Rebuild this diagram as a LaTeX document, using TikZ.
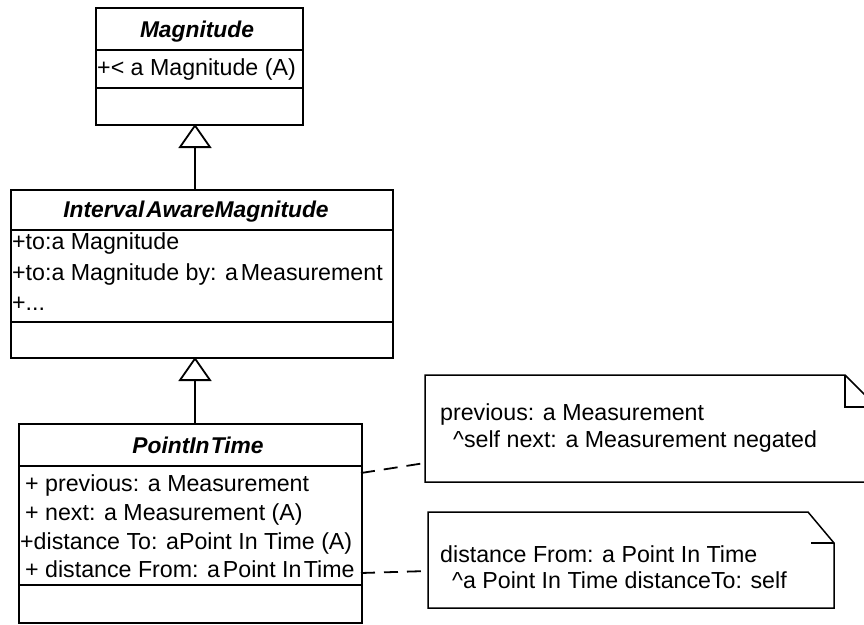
\documentclass[tikz,border=0pt]{standalone}
\usepackage{fontspec}
\setmainfont{Liberation Sans}
\usetikzlibrary{arrows.meta}

\tikzset{
  classbox/.style={draw, line width=2pt, rectangle, inner sep=0pt, anchor=north west},
  compart/.style={line width=1.6pt},
  txt/.style={inner sep=0pt, anchor=base west, font=\fontsize{23.2}{27}\selectfont},
  ctitle/.style={inner sep=0pt, anchor=base, font=\fontsize{22.8}{27}\selectfont\bfseries\itshape},
  gen/.style={line width=1.8pt, -{Triangle[open, length=24pt, width=33pt, line width=1.8pt]}},
  notebox/.style={line width=1.5pt, line join=miter},
  anchorline/.style={line width=1.8pt, dash pattern=on 14pt off 9pt}
}

\begin{document}
\begin{tikzpicture}[x=1pt, y=-1pt]
\useasboundingbox (0,0) rectangle (864,624);
\fill[white] (0,0) rectangle (864,624);
\clip (0,0) rectangle (864,624);

% ---- class Magnitude ----
\node[classbox, minimum width=207pt, minimum height=117pt] (mag) at (95,7) {};
\draw[compart] (95,50) -- (302,50);
\draw[compart] (95,88) -- (302,88);
\node[ctitle] (magT) at (197,37) {Magnitude};
\node[txt] (magA) at (97,75) {+< a Magnitude (A)};

% ---- class IntervalAwareMagnitude ----
\node[classbox, minimum width=382pt, minimum height=168pt] (iam) at (10,189) {};
\draw[compart] (10,230) -- (392,230);
\draw[compart] (10,322) -- (392,322);
\node[ctitle] (iamT) at (196,217) {Interval\hspace{0.08em}AwareMagnitude};
\node[txt] (iamA1) at (12,249) {+to:a Magnitude};
\node[txt] (iamA2) at (12,280) {+to:a Magnitude by: a\hspace{0.12em}Measurement};
\node[txt] (iamA3) at (12,310) {+...};

% ---- class PointInTime ----
\node[classbox, minimum width=343pt, minimum height=199pt] (pit) at (18,423) {};
\draw[compart] (18,466) -- (361,466);
\draw[compart] (18,585) -- (361,585);
\node[ctitle] (pitT) at (198,453) {PointIn\hspace{0.05em}Time};
\node[txt] (pitA1) at (25,491) {+ previous: a Measurement};
\node[txt] (pitA2) at (25,520) {+ next: a Measurement (A)};
\node[txt] (pitA3) at (20,549) {+distance To: aPoint In Time (A)};
\node[txt] (pitA4) at (25,577) {+ distance From: a\hspace{0.12em}Point In\hspace{0.1em}Time};

% ---- generalizations ----
\coordinate (g1a) at (195,189);
\coordinate (g1b) at (195,124);
\coordinate (g2a) at (195,423);
\coordinate (g2b) at (195,357);
\draw[gen] (g1a) -- (g1b);
\draw[gen] (g2a) -- (g2b);

% ---- note: previous ----
\coordinate (n1a) at (425,375);
\coordinate (n1b) at (845,375);
\coordinate (n1c) at (877,407);
\coordinate (n1d) at (877,482);
\coordinate (n1e) at (425,482);
\draw[notebox] (n1a) -- (n1b) -- (n1c) -- (n1d) -- (n1e) -- cycle;
\draw[notebox] (n1b) -- (845,407) -- (n1c);
\node[txt] (n1t1) at (440,420) {previous: a Measurement};
\node[txt] (n1t2) at (453,447) {\textasciicircum self next: a Measurement negated};

% ---- note: distance From ----
\coordinate (n2a) at (428,512);
\coordinate (n2b) at (808,512);
\coordinate (n2c) at (834,543);
\coordinate (n2d) at (834,608);
\coordinate (n2e) at (428,608);
\draw[notebox] (n2a) -- (n2b) -- (n2c) -- (n2d) -- (n2e) -- cycle;
\draw[notebox] (811,543) -- (n2c);
\node[txt] (n2t1) at (440,562) {distance From: a Point In Time};
\node[txt] (n2t2) at (452,588) {\textasciicircum a Point In Time distanceTo: self};

% ---- note anchors ----
\coordinate (p1) at (361,473);
\coordinate (q1) at (425,463);
\coordinate (p2) at (361,573);
\coordinate (q2) at (428,571);
\draw[anchorline] (p1) -- (q1);
\draw[anchorline] (p2) -- (q2);
\end{tikzpicture}
\end{document}
